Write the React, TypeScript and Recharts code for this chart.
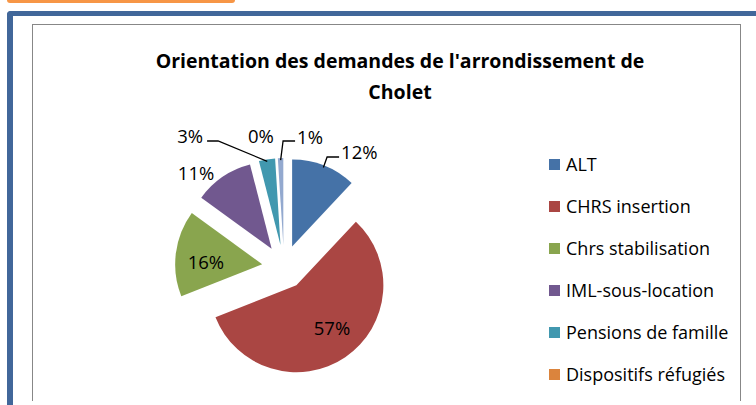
import { PieChart, Pie, Cell, Legend, Sector } from 'recharts';

// Orientation des demandes - arrondissement de Cholet (shares in %)
const categories = [
  'ALT',
  'CHRS insertion',
  'Chrs stabilisation',
  'IML-sous-location',
  'Pensions de famille',
  'Dispositifs réfugiés',
  'Autres',
];
const shares = [12, 57, 16, 11, 3, 0, 1];
const colors = ['#4572A7', '#AA4643', '#89A54E', '#71588F', '#4198AF', '#DB843D', '#93A9CF'];
// the legend box is cut by the frame, only the first entries show
const legendShown = 6;

const data = categories.map((name, i) => ({ name, value: shares[i] }));

const RAD = Math.PI / 180;
const EXPLODE = 22;
const FONT = '"Open Sans", sans-serif';

// where each percentage label sits, relative to its slice's mid angle
const labelPlacement = [
  { nudge: -4.8, rf: 1.476, anchor: 'start', leader: true },
  { nudge: 4, rf: 0.892, anchor: 'middle', leader: false },
  { nudge: 3.5, rf: 0.899, anchor: 'middle', leader: false },
  { nudge: 8.6, rf: 1.488, anchor: 'middle', leader: false },
  { nudge: 22.7, rf: 1.77, anchor: 'end', leader: true },
  { nudge: 6.4, rf: 1.529, anchor: 'middle', leader: false },
  { nudge: -7.5, rf: 1.513, anchor: 'start', leader: true },
];

function ExplodedSector(props: any) {
  const { cx, cy, midAngle } = props;
  const dx = EXPLODE * Math.cos(-midAngle * RAD);
  const dy = EXPLODE * Math.sin(-midAngle * RAD);
  return <Sector {...props} cx={cx + dx} cy={cy + dy} />;
}

function renderLabel(props: any) {
  const { cx, cy, midAngle, outerRadius, percent, index } = props;
  const p = labelPlacement[index];
  const a = (midAngle + p.nudge) * RAD;
  const r = outerRadius * p.rf;
  const x = cx + r * Math.cos(a);
  const y = cy - r * Math.sin(a);
  let line = null;
  if (p.leader) {
    const er = outerRadius + EXPLODE - 2;
    const ex = cx + er * Math.cos(midAngle * RAD);
    const ey = cy - er * Math.sin(midAngle * RAD);
    const ly = y + 5;
    const endX = p.anchor === 'start' ? x - 2 : x + 4;
    const elbowX = p.anchor === 'start' ? x - 14 : x + 15;
    line = (
      <polyline
        points={`${ex},${ey} ${elbowX},${ly} ${endX},${ly}`}
        fill="none"
        stroke="#000"
        strokeWidth={1.3}
      />
    );
  }
  return (
    <g key={`lbl-${index}`}>
      {line}
      <text
        x={x}
        y={y}
        textAnchor={p.anchor as any}
        dominantBaseline="central"
        fill="#000"
        fontSize={18.5}
        fontFamily={FONT}
      >
        {`${Math.round(percent * 100)}%`}
      </text>
    </g>
  );
}

function renderLegend() {
  return (
    <div style={{ fontFamily: FONT, fontSize: 18, color: '#000' }}>
      {categories.slice(0, legendShown).map((name, i) => (
        <div key={name} style={{ height: 42, display: 'flex', alignItems: 'center' }}>
          <span
            style={{
              display: 'inline-block',
              width: 11,
              height: 11,
              background: colors[i],
              marginRight: 6,
            }}
          />
          <span style={{ whiteSpace: 'nowrap' }}>{name}</span>
        </div>
      ))}
    </div>
  );
}

export default function App() {
  return (
    <div
      style={{
        position: 'absolute',
        left: 0,
        top: 0,
        width: 756,
        height: 405,
        overflow: 'hidden',
        background: '#fff',
      }}
    >
      {/* orange tab */}
      <div
        style={{
          position: 'absolute',
          left: 7,
          top: -4,
          width: 228,
          height: 7,
          background: '#F79646',
          borderRadius: 3,
        }}
      />
      {/* blue frame */}
      <div
        style={{
          position: 'absolute',
          left: 7,
          top: 11,
          width: 800,
          height: 450,
          borderLeft: '6px solid #41679A',
          borderTop: '5px solid #41679A',
          borderTopLeftRadius: 4,
          boxSizing: 'border-box',
        }}
      />
      {/* chart box */}
      <div
        style={{
          position: 'absolute',
          left: 32,
          top: 24,
          width: 709,
          height: 377,
          border: '1px solid #878787',
          borderBottom: 'none',
          boxSizing: 'border-box',
          background: '#fff',
        }}
      >
        <div
          style={{
            position: 'absolute',
            left: 67,
            top: 20,
            width: 600,
            textAlign: 'center',
            fontFamily: FONT,
            fontWeight: 700,
            fontSize: 19.5,
            lineHeight: '31px',
            color: '#000',
          }}
        >
          Orientation des demandes de l'arrondissement de
          <br />
          Cholet
        </div>
        <PieChart
          width={707}
          height={376}
          margin={{ top: 0, right: 0, bottom: 0, left: 0 }}
          style={{ position: 'absolute', left: 0, top: 0 }}
        >
          <Pie
            data={data}
            dataKey="value"
            nameKey="name"
            cx={251}
            cy={242}
            outerRadius={87}
            startAngle={90}
            endAngle={-270}
            stroke="none"
            shape={ExplodedSector}
            label={renderLabel}
            labelLine={false}
            isAnimationActive={false}
          >
            {data.map((d, i) => (
              <Cell key={d.name} fill={colors[i]} />
            ))}
          </Pie>
          <Legend
            layout="vertical"
            content={renderLegend}
            wrapperStyle={{ position: 'absolute', left: 516, top: 118, width: 200 }}
          />
        </PieChart>
      </div>
    </div>
  );
}
